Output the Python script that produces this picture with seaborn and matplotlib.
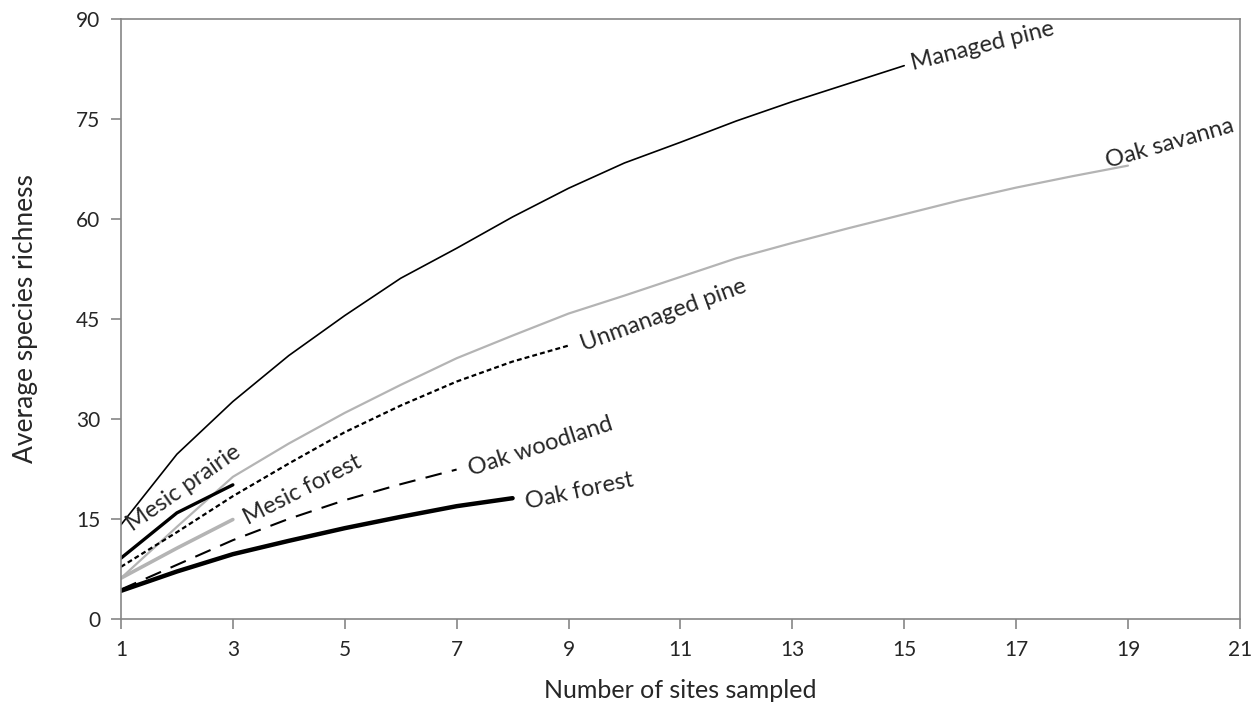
import numpy as np
import pandas as pd
import matplotlib
matplotlib.use("Agg")
import matplotlib.pyplot as plt
import seaborn as sns

# species accumulation, average richness per number of sites
managed_pine_x = list(range(1, 16))
managed_pine = [14.1, 24.7, 32.6, 39.5, 45.5, 51.1, 55.6, 60.3, 64.6, 68.4, 71.5, 74.7, 77.6, 80.3, 83.0]

oak_savanna_x = list(range(1, 20))
oak_savanna = [6.1, 13.8, 21.3, 26.3, 30.9, 35.1, 39.1, 42.5, 45.8, 48.5, 51.3, 54.1, 56.4, 58.6, 60.7,
               62.8, 64.7, 66.4, 68.0]

unmanaged_pine_x = list(range(1, 10))
unmanaged_pine = [7.8, 13.0, 18.4, 23.3, 28.0, 32.0, 35.6, 38.6, 41.0]

mesic_prairie_x = [1, 2, 3]
mesic_prairie = [9.1, 15.9, 20.1]

mesic_forest_x = [1, 2, 3]
mesic_forest = [6.1, 10.6, 14.9]

oak_woodland_x = list(range(1, 8))
oak_woodland = [4.4, 8.1, 11.8, 15.0, 17.8, 20.2, 22.4]

oak_forest_x = list(range(1, 9))
oak_forest = [4.2, 7.1, 9.7, 11.7, 13.6, 15.3, 16.9, 18.1]

sns.set_style("white")
plt.rcParams['font.family'] = ['Lato', 'DejaVu Sans']

fig = plt.figure(figsize=(12.6, 7.04), dpi=100)
ax = fig.add_axes([0.096, 0.121, 0.888, 0.852])

sns.lineplot(x=managed_pine_x, y=managed_pine, ax=ax, color='black', linewidth=1.2)
sns.lineplot(x=oak_savanna_x, y=oak_savanna, ax=ax, color='#b4b4b4', linewidth=1.6)
sns.lineplot(x=unmanaged_pine_x, y=unmanaged_pine, ax=ax, color='black', linewidth=1.6,
             linestyle=(0, (2.2, 1.4)))
sns.lineplot(x=mesic_prairie_x, y=mesic_prairie, ax=ax, color='black', linewidth=2.4)
sns.lineplot(x=mesic_forest_x, y=mesic_forest, ax=ax, color='#b4b4b4', linewidth=2.6)
sns.lineplot(x=oak_woodland_x, y=oak_woodland, ax=ax, color='black', linewidth=1.5,
             linestyle=(0, (8, 5)))
sns.lineplot(x=oak_forest_x, y=oak_forest, ax=ax, color='black', linewidth=3.2)

# labels at the line ends
lab = dict(fontsize=17, ha='center', va='center', rotation_mode='anchor')
ax.text(16.4, 86.0, 'Managed pine', rotation=14, **lab)
ax.text(19.75, 71.3, 'Oak savanna', rotation=16, **lab)
ax.text(10.7, 45.6, 'Unmanaged pine', rotation=20, **lab)
ax.text(2.12, 19.6, 'Mesic prairie', rotation=35, **lab)
ax.text(4.25, 19.3, 'Mesic forest', rotation=27, **lab)
ax.text(8.5, 25.8, 'Oak woodland', rotation=18, **lab)
ax.text(9.2, 19.2, 'Oak forest', rotation=12, **lab)

ax.set_xlim(1, 21)
ax.set_ylim(0, 90)
ax.set_xticks(range(1, 22, 2))
ax.set_yticks(range(0, 91, 15))
ax.set_xlabel('Number of sites sampled', fontsize=18, labelpad=14)
ax.set_ylabel('Average species richness', fontsize=19, labelpad=27)
ax.tick_params(axis='both', direction='out', length=7, width=1.2, color='#868686',
               labelsize=15, pad=8, bottom=True, left=True)
for s in ax.spines.values():
    s.set_color('#868686')
    s.set_linewidth(1.2)

fig.savefig('out.png', dpi=100)
